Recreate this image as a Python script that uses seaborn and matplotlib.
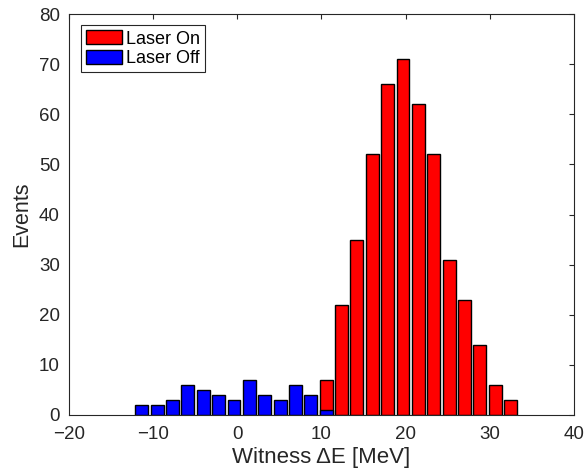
import numpy as np
import pandas as pd
import matplotlib
matplotlib.use("Agg")
import matplotlib.pyplot as plt
import seaborn as sns
from matplotlib.patches import Patch

# Bin centres (MeV)
bin_centers = [-11.33, -9.50, -7.68, -5.85, -4.03, -2.20, -0.37, 1.45, 3.28, 5.10,
               6.93, 8.76, 10.58, 12.41, 14.23, 16.06, 17.88, 19.71, 21.53, 23.36,
               25.19, 27.01, 28.84, 30.66, 32.49]
laser_on = [0, 0, 0, 0, 0, 0, 0, 0, 0, 0, 0, 0, 7, 22, 35, 52, 66, 71, 62, 52, 31, 23, 14, 6, 3]
laser_off = [2, 2, 3, 6, 5, 4, 3, 7, 4, 3, 6, 4, 1, 0, 0, 0, 0, 0, 0, 0, 0, 0, 0, 0, 0]
x_ticks = [-20, -10, 0, 10, 20, 30, 40]
y_ticks = [0, 10, 20, 30, 40, 50, 60, 70, 80]

sns.set_style("white")
plt.rcParams['font.family'] = ['Liberation Sans', 'DejaVu Sans']
TXT = "#262626"

df = pd.DataFrame({"E": bin_centers, "on": laser_on, "off": laser_off})
c = np.array(bin_centers)
w = float(np.mean(np.diff(c)))
edges = [float(v) for v in np.append(c - w / 2, c[-1] + w / 2)]

fig = plt.figure(figsize=(5.88, 4.71), dpi=100)
ax = fig.add_axes([0.117, 0.119, 0.859, 0.851])

sns.histplot(data=df, x="E", weights="on", bins=edges, shrink=0.84, color=(1, 0, 0),
             edgecolor="black", linewidth=1.0, alpha=1, ax=ax)
sns.histplot(data=df, x="E", weights="off", bins=edges, shrink=0.84, color=(0, 0, 1),
             edgecolor="black", linewidth=1.0, alpha=1, ax=ax)
for p in ax.patches:
    if p.get_height() == 0:
        p.set_visible(False)

ax.set_xlim(-20, 40)
ax.set_ylim(0, 80)
ax.set_xticks(x_ticks)
ax.set_yticks(y_ticks)
ax.tick_params(direction="in", top=True, right=True, length=3.6, width=0.8,
               labelsize=13.5, colors=TXT, labelcolor=TXT)
ax.tick_params(axis="x", pad=8)
ax.tick_params(axis="y", pad=6.5)
for s in ax.spines.values():
    s.set_color(TXT)
    s.set_linewidth(0.8)
ax.set_xlabel("Witness \u0394E [MeV]", fontsize=16, labelpad=2.5, color=TXT)
ax.set_ylabel("Events", fontsize=15.5, labelpad=5, color=TXT)

handles = [Patch(facecolor=(1, 0, 0), edgecolor="black", label="Laser On"),
           Patch(facecolor=(0, 0, 1), edgecolor="black", label="Laser Off")]
leg = ax.legend(handles=handles, loc="upper left", bbox_to_anchor=(0.024, 0.973),
                fontsize=13, frameon=True, fancybox=False, edgecolor=TXT,
                framealpha=1, borderpad=0.3, handlelength=1.95, handleheight=0.8,
                handletextpad=0.25, labelspacing=0.12, borderaxespad=0)
leg.get_frame().set_linewidth(0.8)
for t in leg.get_texts():
    t.set_color("black")

fig.savefig("out.png", dpi=100)
